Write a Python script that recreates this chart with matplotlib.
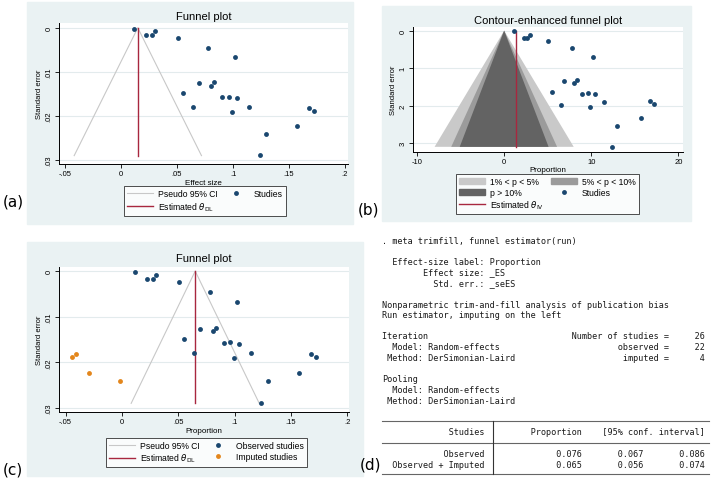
import numpy as np
import matplotlib.pyplot as plt
from matplotlib.patches import Rectangle, Polygon, Patch
from matplotlib.lines import Line2D

plt.rcParams['font.family'] = ['Liberation Sans', 'DejaVu Sans']

# ---- data ----
# (a) / (c): observed studies, effect size and standard error
effect = [0.0119, 0.0226, 0.0277, 0.0301, 0.0509, 0.0780, 0.1018, 0.0551, 0.0693, 0.0804, 0.0833,
          0.0643, 0.0905, 0.0961, 0.1036, 0.1146, 0.0991, 0.1238, 0.1295, 0.1568, 0.1679, 0.1723]
se = [0.0002, 0.0017, 0.0017, 0.0008, 0.0024, 0.0046, 0.0067, 0.0148, 0.0126, 0.0131, 0.0124,
      0.0180, 0.0158, 0.0156, 0.0160, 0.0179, 0.0190, 0.0289, 0.0240, 0.0223, 0.0181, 0.0188]
# (c): imputed studies
imp_effect = [-0.0447, -0.0405, -0.0293, -0.0015]
imp_se = [0.0188, 0.0181, 0.0223, 0.0240]
theta_a = 0.015
theta_c = 0.065
se_max = 0.029

# (b): contour-enhanced funnel, proportion in %
prop_b = [1.15, 2.26, 2.68, 2.95, 5.06, 7.74, 10.15, 5.44, 6.86, 7.97, 8.35,
          6.48, 8.97, 9.58, 10.38, 11.46, 9.89, 12.38, 12.99, 15.71, 16.78, 17.24]
se_b = [0.02, 0.19, 0.19, 0.11, 0.27, 0.47, 0.69, 1.63, 1.35, 1.40, 1.31,
        1.99, 1.69, 1.66, 1.68, 1.89, 2.03, 3.10, 2.55, 2.34, 1.88, 1.96]
theta_b = 1.4
se_max_b = 3.1
z_levels = [2.576, 1.96, 1.645]
contour_labels = ['1% < p < 5%', '5% < p < 10%', 'p > 10%']

# (d): trim-and-fill output
n_studies, n_observed, n_imputed = 26, 22, 4
pooled_labels = ['Observed', 'Observed + Imputed']
pooled_est = [0.076, 0.065]
ci_lo = [0.067, 0.056]
ci_hi = [0.086, 0.074]

NAVY = '#1a476f'
RED = '#a8273f'
ORANGE = '#e3861c'
CIGREY = '#c8c8c8'
BG = '#eaf2f3'
CONTOUR = ['#c9c9c9', '#9b9b9b', '#636363']

W, H = 718, 485
fig = plt.figure(figsize=(W / 100, H / 100), dpi=100)


def fx(x):
    return x / W


def fy(y):
    return 1 - y / H


def rect(l, t, r, b):
    return [l / W, 1 - b / H, (r - l) / W, (b - t) / H]


def panel_bg(l, t, r, b):
    fig.patches.append(Rectangle((l / W, 1 - b / H), (r - l) / W, (b - t) / H,
                                 transform=fig.transFigure, color=BG, zorder=-5))


def style(ax, xlim, ylim, xticks, xlabels, yticks, ylabels, xlabel, title, pad):
    ax.set_xlim(xlim)
    ax.set_ylim(ylim)
    for s in ['top', 'right']:
        ax.spines[s].set_visible(False)
    for s in ['left', 'bottom']:
        ax.spines[s].set_linewidth(0.7)
    ax.set_xticks(xticks)
    ax.set_xticklabels(xlabels)
    ax.set_yticks(yticks)
    ax.set_yticklabels(ylabels, rotation=90, va='center')
    ax.tick_params(direction='out', length=3, width=0.6, labelsize=5.5, pad=1.5)
    ax.grid(axis='y', color='#e3ebed', lw=0.8)
    ax.set_axisbelow(True)
    ax.set_xlabel(xlabel, fontsize=5.8, labelpad=1)
    ax.set_ylabel('Standard error', fontsize=5.5, labelpad=2)
    ax.set_title(title, fontsize=8, pad=pad)


def legend(ax, handles, labels, cx, cy, hl=3.0, cs=0.6):
    lg = ax.legend(handles, labels, ncol=2, loc='center',
                   bbox_to_anchor=(fx(cx), fy(cy)), bbox_transform=fig.transFigure,
                   fontsize=6.2, frameon=True, fancybox=False, edgecolor='black',
                   borderpad=0.35, labelspacing=0.2, handlelength=hl,
                   handletextpad=0.6, columnspacing=cs)
    lg.get_frame().set_linewidth(0.6)


# ---- panel (a) ----
panel_bg(27, 3, 353, 225)
ax = fig.add_axes(rect(59, 24, 348, 165))
ci_l, = ax.plot([theta_a - 1.96 * se_max, theta_a, theta_a + 1.96 * se_max],
                [se_max, 0, se_max], color=CIGREY, lw=0.8)
est_l, = ax.plot([theta_a, theta_a], [0, se_max], color=RED, lw=1.0)
pts, = ax.plot(effect, se, 'o', color=NAVY, ms=3.5, mec='none', ls='none')
style(ax, (-0.0554, 0.2027), (0.0309, -0.0011),
      [-0.05, 0, 0.05, 0.1, 0.15, 0.2], ['-.05', '0', '.05', '.1', '.15', '.2'],
      [0, 0.01, 0.02, 0.03], ['0', '.01', '.02', '.03'], 'Effect size', 'Funnel plot', 3)
legend(ax, [ci_l, est_l, pts], ['Pseudo 95% CI', r'Estimated $\theta_{\mathrm{DL}}$', 'Studies'], 205, 202)
fig.text(fx(3), fy(202), '(a)', fontsize=11, family='DejaVu Sans', va='center')

# ---- panel (b) ----
panel_bg(381.7, 6.7, 691, 221.7)
ax = fig.add_axes(rect(412.7, 27.7, 682.7, 152.7))
patches = []
for z, c in zip(z_levels, CONTOUR):
    ax.add_patch(Polygon([(-z * se_max_b, se_max_b), (0, 0), (z * se_max_b, se_max_b)],
                         closed=True, color=c, lw=0, zorder=1))
    patches.append(Patch(color=c))
est_b, = ax.plot([theta_b, theta_b], [0, se_max_b], color=RED, lw=1.0, zorder=2)
pts_b, = ax.plot(prop_b, se_b, 'o', color=NAVY, ms=3.5, mec='none', ls='none', zorder=3)
style(ax, (-10.5, 20.5), (3.23, -0.107),
      [-10, 0, 10, 20], ['-10', '0', '10', '20'],
      [0, 1, 2, 3], ['0', '1', '2', '3'], 'Proportion', 'Contour-enhanced funnel plot', 3)
legend(ax, [patches[0], patches[2], est_b, patches[1], pts_b],
       [contour_labels[0], contour_labels[2], r'Estimated $\theta_{\mathrm{IV}}$',
        contour_labels[1], 'Studies'], 547.5, 195, hl=3.0, cs=0.8)
fig.text(fx(358), fy(210), '(b)', fontsize=11, family='DejaVu Sans', va='center')

# ---- panel (c) ----
panel_bg(27, 243, 363, 477)
ax = fig.add_axes(rect(59, 268, 349, 413))
ci_c, = ax.plot([theta_c - 1.96 * se_max, theta_c, theta_c + 1.96 * se_max],
                [se_max, 0, se_max], color=CIGREY, lw=0.8)
est_c, = ax.plot([theta_c, theta_c], [0, se_max], color=RED, lw=1.0)
obs_c, = ax.plot(effect, se, 'o', color=NAVY, ms=3.5, mec='none', ls='none')
imp_c, = ax.plot(imp_effect, imp_se, 'o', color=ORANGE, ms=3.5, mec='none', ls='none')
style(ax, (-0.0559, 0.2015), (0.0309, -0.0009),
      [-0.05, 0, 0.05, 0.1, 0.15, 0.2], ['-.05', '0', '.05', '.1', '.15', '.2'],
      [0, 0.01, 0.02, 0.03], ['0', '.01', '.02', '.03'], 'Proportion', 'Funnel plot', 4)
legend(ax, [ci_c, est_c, obs_c, imp_c],
       ['Pseudo 95% CI', r'Estimated $\theta_{\mathrm{DL}}$', 'Observed studies', 'Imputed studies'],
       206.5, 453.5)
fig.text(fx(3), fy(470), '(c)', fontsize=11, family='DejaVu Sans', va='center')

# ---- panel (d): Stata output ----
out = [
    (241, '. meta trimfill, funnel estimator(run)'),
    (262, '  Effect-size label: Proportion'),
    (272, '        Effect size: _ES'),
    (283, '          Std. err.: _seES'),
    (305, 'Nonparametric trim-and-fill analysis of publication bias'),
    (315, 'Run estimator, imputing on the left'),
    (336, f"{'Iteration':<37}Number of studies = {n_studies:>6}"),
    (347, f"{'  Model: Random-effects':<46}observed = {n_observed:>6}"),
    (358, f"{' Method: DerSimonian-Laird':<47}imputed = {n_imputed:>6}"),
    (379, 'Pooling'),
    (390, '  Model: Random-effects'),
    (401, ' Method: DerSimonian-Laird'),
    (432, f"{'Studies':>20}{'Proportion':>19}{'[95% conf. interval]':>24}"),
]
for lab, e, lo, hi, y in zip(pooled_labels, pooled_est, ci_lo, ci_hi, [454, 465]):
    out.append((y, f"{lab:>20}{e:>19.3f}{lo:>12.3f}{hi:>12.3f}"))
for y, s in out:
    fig.text(fx(382), fy(y + 3), s, family='DejaVu Sans Mono', fontsize=6.1,
             color='#1a1a1a', va='baseline', ha='left')
for y in [422, 444, 475]:
    fig.add_artist(Line2D([fx(382), fx(709)], [fy(y), fy(y)], color='#666666', lw=0.8))
fig.add_artist(Line2D([fx(493), fx(493)], [fy(422), fy(475)], color='#333333', lw=0.8))
fig.text(fx(360), fy(465), '(d)', fontsize=11, family='DejaVu Sans', va='center')

fig.savefig('out.png', dpi=100, facecolor='white')
